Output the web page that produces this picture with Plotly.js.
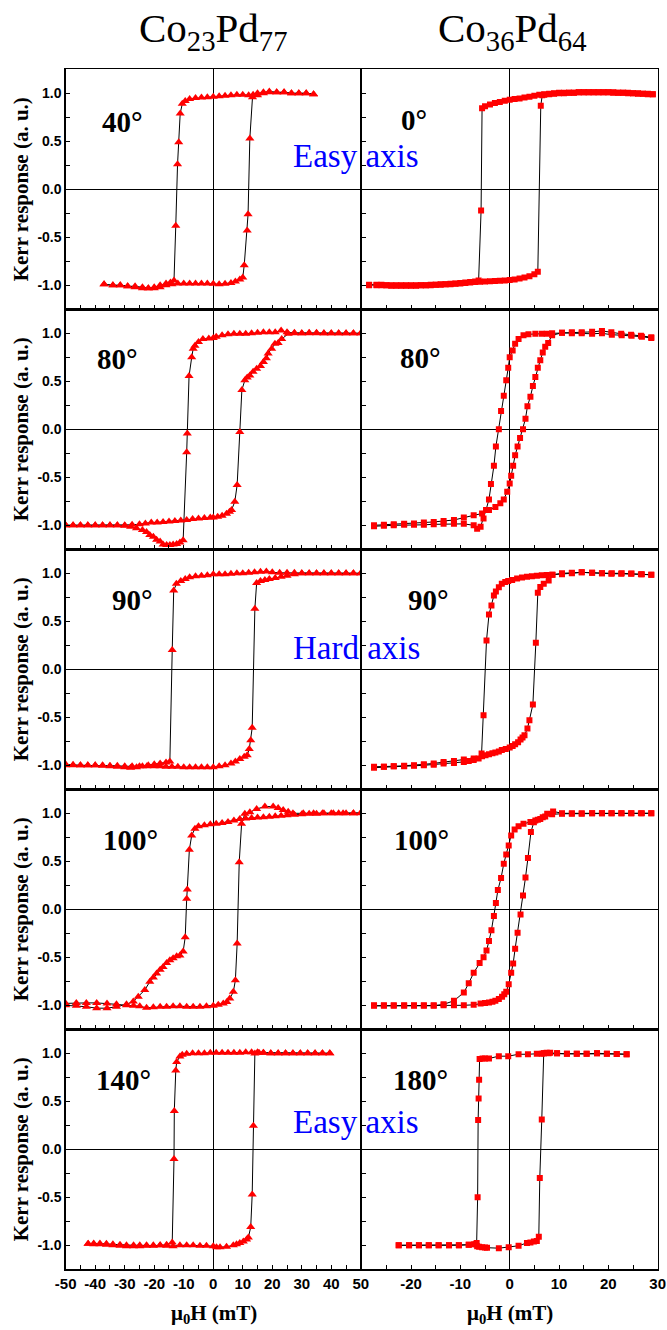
<!DOCTYPE html>
<html>
<head>
<meta charset="utf-8">
<script src="https://cdn.plot.ly/plotly-3.0.1.min.js"></script>
<style>
  html, body { margin: 0; padding: 0; background: #ffffff; }
  #chart { width: 667px; height: 1330px; }
</style>
</head>
<body>
<div id="chart"></div>
<script>
// ---------------- DATA ----------------
// Column titles, panel angle labels
const columnTitles = ['Co<sub>23</sub>Pd<sub>77</sub>', 'Co<sub>36</sub>Pd<sub>64</sub>'];
const angleLabelsLeft = ['40°', '80°', '90°', '100°', '140°'];
const angleLabelsRight = ['0°', '80°', '90°', '100°', '180°'];
const axisNotes = ['Easy axis', 'Hard axis', 'Easy axis'];
const yTitle = 'Kerr response (a. u.)';
const xTitle = 'μ<sub>0</sub>H (mT)';

// Tick values / labels
const yTickVals = [-1, -0.5, 0, 0.5, 1];
const yTickText = ['-1.0', '-0.5', '0.0', '0.5', '1.0'];
const xTickValsLeft = [-50, -40, -30, -20, -10, 0, 10, 20, 30, 40, 50];
const xTickTextLeft = ['-50', '-40', '-30', '-20', '-10', '0', '10', '20', '30', '40', '50'];
const xTickValsRight = [-20, -10, 0, 10, 20, 30];
const xTickTextRight = ['-20', '-10', '0', '10', '20', '30'];

// Co23Pd77, 40 deg
const p40DescX = [34, 31.5, 29, 26.5, 24, 21.5, 19, 17, 15, 13.5, 12, 10, 8, 6, 4, 2, 0, -2, -4, -6, -8, -9.5, -10.5, -11.2, -11.7, -12.1, -12.7, -13.3, -14.5, -16, -18, -20, -22, -24, -26.5, -29, -31.5, -34, -37];
const p40DescY = [0.99, 1.0, 1.0, 1.0, 1.01, 1.01, 1.02, 1.01, 1.0, 0.985, 0.98, 0.985, 0.985, 0.98, 0.975, 0.97, 0.965, 0.96, 0.955, 0.95, 0.94, 0.92, 0.89, 0.79, 0.49, 0.26, -0.38, -0.95, -0.97, -0.98, -1.0, -1.02, -1.03, -1.03, -1.02, -1.01, -1.0, -1.0, -0.99];
const p40AscX = [-37, -34, -31.5, -29, -26.5, -24, -22, -20, -18, -16, -14, -12, -10, -8, -6, -4, -2, 0, 2, 4, 6, 7.5, 9, 10, 10.5, 11.5, 11.8, 12.4, 13.3, 15, 17, 19, 21.5, 24, 26.5, 29, 31.5, 34];
const p40AscY = [-0.99, -1.0, -1.0, -1.01, -1.01, -1.02, -1.03, -1.03, -1.02, -1.0, -0.99, -0.98, -0.98, -0.98, -0.98, -0.98, -0.98, -0.985, -0.99, -0.985, -0.975, -0.96, -0.94, -0.92, -0.79, -0.43, -0.26, 0.53, 0.96, 0.98, 1.0, 1.01, 1.01, 1.01, 1.0, 1.0, 1.0, 0.99];

// Co36Pd64, 0 deg
const q0DescX = [29, 28, 27, 26, 25, 24, 23, 22, 21, 20, 19, 18, 17, 16, 15, 14, 13, 12, 11, 10, 9, 8, 7, 6, 5, 4, 3, 2, 1, 0, -1, -2, -3, -4, -5, -5.6, -5.8, -6.3, -7, -8, -9, -10, -11, -12, -13, -14, -15, -16, -17, -18, -19, -20, -21, -22, -23, -24, -25, -26, -27, -28.5];
const q0DescY = [0.99, 0.995, 0.995, 1.0, 1.0, 1.005, 1.005, 1.005, 1.01, 1.01, 1.01, 1.01, 1.01, 1.01, 1.01, 1.01, 1.005, 1.005, 1.005, 1.005, 1.0, 0.995, 0.99, 0.985, 0.975, 0.965, 0.955, 0.947, 0.94, 0.932, 0.922, 0.91, 0.898, 0.883, 0.865, 0.845, -0.22, -0.95, -0.96, -0.965, -0.97, -0.975, -0.98, -0.985, -0.99, -0.99, -0.995, -0.995, -1.0, -1.0, -1.0, -1.0, -1.0, -1.0, -1.0, -1.0, -1.0, -0.995, -0.995, -0.995];
const q0AscX = [-28.5, -27, -26, -25, -24, -23, -22, -21, -20, -19, -18, -17, -16, -15, -14, -13, -12, -11, -10, -9, -8, -7, -6, -5, -4, -3, -2, -1, 0, 1, 2, 3, 4, 5, 5.7, 6.3, 6.6, 7, 8, 9, 10, 11, 12, 13, 14, 15, 16, 17, 18, 19, 20, 21, 22, 23, 24, 25, 26, 27, 28, 29];
const q0AscY = [-1.0, -1.0, -1.0, -1.0, -1.005, -1.005, -1.005, -1.005, -1.005, -1.005, -1.0, -1.0, -1.0, -0.995, -0.995, -0.99, -0.99, -0.985, -0.98, -0.975, -0.97, -0.965, -0.962, -0.96, -0.958, -0.955, -0.953, -0.95, -0.945, -0.94, -0.93, -0.918, -0.905, -0.885, -0.86, 0.87, 0.98, 0.985, 0.99, 0.995, 1.0, 1.0, 1.005, 1.005, 1.01, 1.01, 1.01, 1.01, 1.01, 1.01, 1.01, 1.005, 1.005, 1.005, 1.0, 1.0, 0.995, 0.995, 0.99, 0.99];

// Co23Pd77, 80 deg
const p80DescX = [50, 47.5, 45, 42.5, 40, 37.5, 35, 32.5, 30, 27.5, 25, 23, 21, 19, 17, 15, 13, 11, 9, 7, 5, 3, 1, 0, -1.5, -3.5, -5, -6.2, -6.8, -7.3, -8.2, -8.8, -9.0, -10.2, -11.3, -12.4, -13.6, -14.7, -15.8, -17, -18, -19.2, -20.3, -21.5, -22.6, -24, -26, -28, -30, -32.5, -35, -37.5, -40, -42.5, -45, -47.5, -50];
const p80DescY = [1.0, 1.0, 1.0, 1.0, 1.0, 1.0, 1.005, 1.005, 1.0, 1.005, 1.01, 1.03, 1.01, 1.01, 1.01, 1.005, 1.0, 0.995, 0.995, 0.995, 0.99, 0.98, 0.965, 0.95, 0.945, 0.94, 0.91, 0.87, 0.84, 0.75, 0.555, -0.045, -0.24, -1.155, -1.18, -1.196, -1.2, -1.205, -1.205, -1.2, -1.17, -1.15, -1.12, -1.1, -1.07, -1.05, -1.03, -1.015, -1.005, -1.0, -1.0, -1.0, -1.0, -1.0, -1.0, -1.0, -1.0];
const p80AscX = [-50, -47.5, -45, -42.5, -40, -37.5, -35, -32.5, -30, -27.5, -25, -23, -21, -19, -17, -15, -13, -11, -9, -7, -5, -3, -1, 0, 1.5, 3, 4.5, 5.5, 6.2, 7.3, 8.1, 9.0, 9.7, 10.7, 11.5, 12.4, 13.5, 14.7, 16, 17, 18, 18.6, 19.8, 20.9, 22, 23.2, 25.4, 27.5, 30, 32.5, 35, 37.5, 40, 42.5, 45, 47.5, 50];
const p80AscY = [-1.0, -1.0, -1.0, -1.0, -1.0, -1.0, -1.0, -1.0, -1.0, -0.995, -0.99, -0.98, -0.97, -0.97, -0.965, -0.96, -0.955, -0.95, -0.945, -0.935, -0.93, -0.925, -0.92, -0.92, -0.91, -0.9, -0.88, -0.86, -0.84, -0.755, -0.58, -0.028, 0.41, 0.51, 0.54, 0.56, 0.6, 0.63, 0.66, 0.70, 0.74, 0.79, 0.84, 0.89, 0.9, 0.94, 0.995, 1.0, 1.0, 1.0, 1.0, 1.0, 1.0, 1.0, 1.0, 1.0, 1.0];

// Co36Pd64, 80 deg
const q80DescX = [28.7, 26.6, 24.6, 22.6, 20.6, 18.7, 16.7, 14.6, 12.6, 10.6, 8.6, 7.5, 6.5, 5.2, 3.8, 2.8, 1.8, 1.1, 0.6, 0, -0.3, -0.7, -1.2, -1.75, -2.2, -2.8, -3.2, -3.8, -4.2, -4.8, -5.3, -5.9, -6.6, -7.3, -9.3, -11.3, -13.4, -15.4, -17.4, -19.4, -21.4, -23.5, -25.5, -27.5];
const q80DescY = [0.96, 0.975, 0.985, 0.995, 1.01, 1.025, 1.015, 1.01, 1.01, 1.005, 1.0, 0.995, 0.995, 0.995, 0.99, 0.98, 0.94, 0.89, 0.82, 0.75, 0.64, 0.51, 0.35, 0.19, 0.0, -0.18, -0.38, -0.57, -0.73, -0.84, -0.93, -1.015, -1.035, -1.0, -0.985, -0.985, -0.985, -0.99, -0.995, -0.995, -0.995, -1.0, -1.005, -1.01];
const q80AscX = [-27.5, -25.5, -23.5, -21.4, -19.4, -17.4, -15.4, -13.4, -11.3, -9.3, -7.3, -5.6, -4.2, -2.9, -1.9, -1.2, -0.5, 0, 0.3, 0.7, 1.1, 1.6, 2.1, 2.7, 3.2, 3.6, 4.2, 4.7, 5.2, 5.7, 6.2, 6.7, 7.2, 7.8, 8.6, 10.6, 12.6, 14.6, 16.7, 18.7, 20.7, 22.7, 24.7, 26.8, 28.7];
const q80AscY = [-1.0, -0.995, -0.99, -0.985, -0.98, -0.97, -0.965, -0.955, -0.945, -0.92, -0.895, -0.877, -0.84, -0.81, -0.77, -0.73, -0.65, -0.565, -0.485, -0.38, -0.27, -0.18, -0.09, 0.0, 0.11, 0.24, 0.34, 0.45, 0.545, 0.64, 0.72, 0.8, 0.86, 0.9, 0.98, 1.005, 1.0, 1.0, 0.995, 1.0, 0.985, 0.98, 0.975, 0.965, 0.95];

// Co23Pd77, 90 deg
const p90DescX = [50, 47.5, 45, 42.5, 40, 37.5, 35, 32.5, 30, 27.5, 25, 22.5, 20, 18, 16, 14, 12, 10, 8, 6, 4, 2, 0, -2, -4, -6, -8, -9.5, -11, -12.5, -13.4, -13.9, -14.7, -16, -18, -20, -22, -24, -26, -28, -30, -32.5, -35, -37.5, -40, -42.5, -45, -47.5, -50];
const p90DescY = [1.0, 1.0, 1.0, 1.0, 1.0, 1.0, 1.0, 1.0, 1.0, 1.005, 1.005, 1.005, 1.01, 1.02, 1.015, 1.01, 1.005, 1.0, 1.0, 0.995, 0.99, 0.99, 0.99, 0.98, 0.975, 0.97, 0.96, 0.94, 0.92, 0.89, 0.82, 0.2, -0.96, -0.97, -0.98, -0.99, -1.0, -1.01, -1.02, -1.025, -1.02, -1.015, -1.01, -1.005, -1.0, -1.0, -1.0, -0.995, -0.99];
const p90AscX = [-50, -47.5, -45, -42.5, -40, -37.5, -35, -32.5, -30, -27.5, -25, -22.5, -20, -18, -16, -14, -12, -10, -8, -6, -4, -2, 0, 2, 4, 6, 7.5, 9, 10.5, 11.5, 12.2, 12.7, 13.2, 14.1, 14.7, 16, 17.5, 19, 21, 23, 25, 27.5, 30, 32.5, 35, 37.5, 40, 42.5, 45, 47.5, 50];
const p90AscY = [-1.0, -1.0, -1.0, -1.0, -1.0, -1.0, -1.005, -1.005, -1.01, -1.01, -1.01, -1.01, -1.01, -1.01, -1.015, -1.015, -1.015, -1.02, -1.02, -1.02, -1.02, -1.02, -1.02, -1.01, -1.0, -0.98, -0.96, -0.935, -0.91, -0.895, -0.83, -0.74, -0.61, 0.63, 0.9, 0.92, 0.93, 0.94, 0.95, 0.965, 0.975, 0.99, 1.0, 1.0, 1.0, 1.0, 1.0, 1.0, 1.0, 1.0, 1.0];

// Co36Pd64, 90 deg
const q90DescX = [28.7, 26.6, 24.6, 22.6, 20.6, 18.7, 16.7, 14.6, 12.6, 10.6, 8.6, 7.5, 6.5, 5.5, 4.5, 3.5, 2.5, 1.5, 0.5, -0.3, -0.9, -1.6, -2.2, -2.8, -3.2, -3.7, -4.2, -4.7, -5.3, -5.7, -6.3, -7.3, -8.3, -9.3, -11.3, -13.4, -15.4, -17.4, -19.4, -21.4, -23.5, -25.5, -27.5];
const q90DescY = [0.985, 0.99, 0.995, 0.995, 0.995, 1.0, 1.005, 1.01, 1.0, 0.99, 0.985, 0.982, 0.98, 0.975, 0.97, 0.963, 0.955, 0.945, 0.93, 0.92, 0.91, 0.89, 0.855, 0.81, 0.77, 0.665, 0.57, 0.3, -0.478, -0.877, -0.93, -0.946, -0.955, -0.965, -0.975, -0.98, -0.995, -1.0, -1.005, -1.01, -1.01, -1.015, -1.025];
const q90AscX = [-27.5, -25.5, -23.5, -21.4, -19.4, -17.4, -15.4, -13.4, -11.3, -9.3, -7.3, -5.6, -4.9, -4.2, -3.5, -2.9, -2.2, -1.6, -0.8, 0, 0.6, 1.1, 1.7, 2.2, 2.6, 3.0, 3.6, 4.0, 4.7, 5.3, 5.7, 6.2, 6.9, 7.9, 8.7, 10.6, 12.6, 14.6, 16.7, 18.7, 20.7, 22.7, 24.7, 26.8, 28.7];
const q90AscY = [-1.015, -1.015, -1.01, -1.005, -1.0, -0.99, -0.98, -0.965, -0.955, -0.94, -0.93, -0.905, -0.895, -0.885, -0.875, -0.867, -0.855, -0.84, -0.83, -0.815, -0.8, -0.78, -0.76, -0.73, -0.71, -0.686, -0.617, -0.53, -0.367, 0.277, 0.797, 0.856, 0.89, 0.925, 0.985, 1.0, 1.005, 1.01, 1.005, 1.0, 1.0, 1.0, 0.997, 0.99, 0.985];

// Co23Pd77, 100 deg
const p100DescX = [50, 47.5, 45, 42.5, 40, 37.5, 35, 32.5, 30, 27.5, 25, 23, 21, 19, 17, 15, 13, 11, 9, 7, 5, 3, 1, -1, -3, -5, -6.2, -7.3, -8.1, -8.8, -9.0, -9.5, -10.2, -11.3, -12.4, -13.6, -14.7, -15.8, -17, -18, -19.2, -20.3, -21.5, -23.2, -25.4, -27.1, -29.4, -32.8, -36, -39.5, -43, -46.4, -50];
const p100DescY = [1.0, 1.0, 1.0, 1.0, 1.0, 1.0, 0.995, 0.995, 0.99, 0.985, 0.98, 0.975, 0.97, 0.965, 0.96, 0.955, 0.95, 0.945, 0.94, 0.925, 0.91, 0.9, 0.89, 0.885, 0.875, 0.865, 0.84, 0.77, 0.62, 0.205, 0.11, -0.29, -0.44, -0.48, -0.49, -0.51, -0.53, -0.56, -0.6, -0.63, -0.67, -0.71, -0.755, -0.84, -0.91, -0.96, -0.99, -1.015, -1.03, -1.03, -1.015, -1.005, -1.0];
const p100AscX = [-50, -46.4, -43, -39.5, -36, -32.8, -29.4, -27, -24.9, -22.6, -20.3, -18, -15.8, -13.6, -11.3, -9, -6.8, -4.5, -2.3, 0, 1.7, 3.4, 4.6, 5.6, 6.8, 7.5, 8.1, 8.8, 9.6, 10.7, 12.4, 14.7, 17.5, 20.3, 22, 23.7, 25.4, 27, 30.5, 34, 37, 40.7, 44, 47.5, 50];
const p100AscY = [-0.98, -0.975, -0.975, -0.975, -0.98, -0.99, -1.0, -1.005, -1.01, -1.026, -1.02, -1.015, -1.015, -1.01, -1.01, -1.015, -1.015, -1.015, -1.01, -1.005, -0.995, -0.98, -0.965, -0.93, -0.86, -0.74, -0.357, 0.49, 0.89, 0.995, 1.01, 1.045, 1.07, 1.07, 1.055, 1.035, 1.015, 1.0, 1.0, 1.0, 1.0, 1.0, 1.0, 1.0, 1.005];

// Co36Pd64, 100 deg
const q100DescX = [28.7, 26.6, 24.6, 22.6, 20.6, 18.7, 16.7, 14.6, 12.6, 10.6, 8.6, 7.2, 6.2, 5.2, 4.2, 2.8, 1.8, 1.0, 0.3, -0.2, -0.7, -1.2, -1.75, -2.4, -2.8, -3.2, -3.7, -4.2, -4.7, -5.3, -6.1, -7.3, -8.3, -9.3, -11.3, -13.4, -15.4, -17.4, -19.4, -21.4, -23.5, -25.5, -27.5];
const q100DescY = [1.0, 1.0, 1.0, 1.0, 1.0, 1.0, 1.0, 0.995, 0.995, 0.995, 0.99, 0.967, 0.94, 0.925, 0.91, 0.89, 0.866, 0.83, 0.77, 0.665, 0.57, 0.475, 0.326, 0.2, 0.066, -0.07, -0.218, -0.33, -0.43, -0.5, -0.56, -0.66, -0.77, -0.867, -0.953, -0.99, -1.005, -1.005, -1.005, -1.005, -1.005, -1.005, -1.005];
const q100AscX = [-27.5, -25.5, -23.5, -21.4, -19.4, -17.4, -15.4, -13.4, -11.3, -9.3, -7.3, -5.9, -5.0, -4.2, -3.5, -2.9, -2.2, -1.55, -1.1, -0.7, -0.2, 0.3, 0.7, 1.1, 1.6, 2.2, 2.7, 3.2, 3.7, 4.3, 4.9, 5.7, 6.7, 7.6, 8.8, 10.6, 12.6, 14.6, 16.7, 18.7, 20.7, 22.7, 24.7, 26.8, 28.7];
const q100AscY = [-1.0, -1.0, -1.0, -1.0, -1.0, -1.0, -1.0, -1.0, -1.0, -1.0, -0.995, -0.98, -0.975, -0.97, -0.962, -0.953, -0.935, -0.91, -0.885, -0.86, -0.78, -0.66, -0.565, -0.41, -0.243, -0.055, 0.145, 0.33, 0.534, 0.804, 0.908, 0.932, 0.96, 0.995, 1.02, 1.0, 1.0, 1.0, 1.0, 1.0, 1.0, 1.0, 1.0, 1.0, 1.0];

// Co23Pd77, 140 deg
const p140DescX = [39.5, 37, 34.5, 32, 29.5, 27, 24.5, 22, 19.5, 17, 15, 13, 11, 9, 7, 5, 3, 1, -1, -3, -5, -7, -9, -10.5, -11.3, -12.4, -12.7, -13.2, -13.3, -13.9, -15.8, -18, -20.3, -22.6, -24.9, -27, -29.4, -31.6, -34, -36.2, -38.4, -40.5, -42.4];
const p140DescY = [1.0, 1.0, 1.0, 1.0, 1.0, 1.0, 1.0, 1.0, 1.0, 1.005, 1.01, 1.01, 1.01, 1.005, 1.005, 1.005, 1.005, 1.005, 1.005, 1.0, 1.0, 1.0, 0.995, 0.985, 0.967, 0.91, 0.82, 0.4, -0.1, -0.97, -0.995, -1.0, -1.005, -1.005, -1.01, -1.01, -1.01, -1.005, -1.0, -0.995, -0.99, -0.99, -0.985];
const p140AscX = [-42.4, -40.5, -38.4, -36.2, -34, -31.6, -29.4, -27, -24.9, -22.6, -20.3, -18, -15.8, -13.6, -11.3, -9, -6.8, -4.5, -2.3, 0, 1.1, 2.3, 4.5, 6.8, 7.9, 9, 10.2, 11.3, 11.9, 12.7, 13.2, 13.6, 14.1, 15.5, 17, 19.5, 22, 24.5, 27, 29.5, 32, 34.5, 37, 39.5];
const p140AscY = [-0.985, -0.98, -0.98, -0.985, -0.99, -0.995, -1.0, -1.0, -1.0, -1.0, -1.0, -1.0, -1.005, -1.01, -1.0, -1.0, -1.0, -1.005, -1.005, -1.01, -1.02, -1.02, -1.015, -1.0, -0.99, -0.975, -0.96, -0.94, -0.92, -0.81, -0.47, 0.245, 0.997, 1.005, 1.005, 1.0, 1.0, 1.0, 1.0, 1.0, 1.0, 1.0, 1.0, 1.0];

// Co36Pd64, 180 deg
const q180DescX = [23.7, 21.7, 19.7, 17.7, 15.6, 13.6, 11.6, 9.6, 7.9, 6.9, 6.5, 5.5, 3.7, 1.8, -0.3, -2.2, -4.2, -5.0, -5.5, -6.1, -6.2, -6.3, -6.4, -6.5, -6.7, -7.2, -8.3, -10.3, -12.3, -14.4, -16.4, -18.4, -20.4, -22.5];
const q180DescY = [0.99, 0.993, 0.995, 1.0, 0.995, 0.995, 0.995, 1.0, 1.0, 1.0, 0.995, 0.995, 0.99, 0.99, 0.97, 0.97, 0.946, 0.946, 0.946, 0.94, 0.725, 0.53, 0.305, -0.5, -0.977, -0.99, -0.995, -1.0, -1.0, -1.0, -1.0, -1.0, -1.0, -1.0];
const q180AscX = [-22.5, -20.4, -18.4, -16.4, -14.4, -12.3, -10.3, -8.3, -6.9, -6.6, -6.2, -5.6, -5.0, -4.6, -2.2, -0.2, 1.8, 3.5, 4.2, 4.9, 5.5, 5.9, 6.1, 6.5, 6.9, 7.5, 8.2, 9.6, 11.6, 13.6, 15.6, 17.7, 19.7, 21.7, 23.7];
const q180AscY = [-1.0, -1.0, -1.0, -1.0, -1.0, -1.0, -1.0, -0.995, -0.99, -1.01, -1.015, -1.02, -1.022, -1.025, -1.03, -1.02, -1.005, -0.975, -0.97, -0.96, -0.955, -0.91, -0.3, 0.31, 1.0, 1.005, 1.005, 1.0, 0.995, 0.995, 0.995, 1.0, 0.995, 0.993, 0.99];

// ---------------- BUILD ----------------
const W = 667, H = 1330;
const px = v => v / W;
const py = v => 1 - v / H;

// panel list: [descX, descY, ascX, ascY, column, row]
const panels = [
  [p40DescX, p40DescY, p40AscX, p40AscY, 0, 0],
  [q0DescX, q0DescY, q0AscX, q0AscY, 1, 0],
  [p80DescX, p80DescY, p80AscX, p80AscY, 0, 1],
  [q80DescX, q80DescY, q80AscX, q80AscY, 1, 1],
  [p90DescX, p90DescY, p90AscX, p90AscY, 0, 2],
  [q90DescX, q90DescY, q90AscX, q90AscY, 1, 2],
  [p100DescX, p100DescY, p100AscX, p100AscY, 0, 3],
  [q100DescX, q100DescY, q100AscX, q100AscY, 1, 3],
  [p140DescX, p140DescY, p140AscX, p140AscY, 0, 4],
  [q180DescX, q180DescY, q180AscX, q180AscY, 1, 4]
];

const colPx = [[65.7, 360.8], [361.7, 657.7]];
const rowTop = 69.3, rowH = 240;
const xTickFont = { family: 'Liberation Sans, Arial, sans-serif', size: 15, color: '#000000', weight: 'bold' };
const yTickFont = { family: 'Liberation Sans, Arial, sans-serif', size: 14, color: '#000000', weight: 'bold' };

const traces = [];
const layout = {
  width: W, height: H,
  margin: { l: 0, r: 0, t: 0, b: 0, pad: 0 },
  paper_bgcolor: '#ffffff', plot_bgcolor: '#ffffff',
  showlegend: false,
  annotations: []
};

panels.forEach((p, i) => {
  const k = i + 1;
  const xn = k === 1 ? 'x' : 'x' + k;
  const yn = k === 1 ? 'y' : 'y' + k;
  const col = p[4], row = p[5];
  traces.push({
    type: 'scatter', mode: 'lines+markers',
    x: p[0].concat(p[2]), y: p[1].concat(p[3]),
    xaxis: xn, yaxis: yn,
    line: { color: '#000000', width: 1 },
    marker: col === 0
      ? { symbol: 'triangle-up', size: 8, color: '#ff0000', line: { width: 0 } }
      : { symbol: 'square', size: 6, color: '#ff0000', line: { width: 0 } },
    hoverinfo: 'skip'
  });
  const top = rowTop + row * rowH, bot = top + rowH;
  layout['xaxis' + (k === 1 ? '' : k)] = {
    domain: [px(colPx[col][0]), px(colPx[col][1])],
    anchor: yn,
    range: col === 0 ? [-50, 50] : [-30, 30],
    showline: true, mirror: true, linecolor: '#000000', linewidth: 1.4,
    ticks: 'inside', ticklen: 4, tickwidth: 1, tickcolor: '#000000',
    tickmode: 'array',
    tickvals: col === 0 ? xTickValsLeft : xTickValsRight,
    ticktext: col === 0 ? xTickTextLeft : xTickTextRight,
    showticklabels: row === 4,
    tickfont: xTickFont,
    minor: { tickmode: 'linear', tick0: 0, dtick: 5, ticks: 'inside', ticklen: 4, tickwidth: 1, tickcolor: '#000000', showgrid: false },
    showgrid: false,
    zeroline: true, zerolinecolor: '#000000', zerolinewidth: 1,
    fixedrange: true
  };
  layout['yaxis' + (k === 1 ? '' : k)] = {
    domain: [py(bot), py(top)],
    anchor: xn,
    range: [-1.25, 1.25],
    showline: true, mirror: true, linecolor: '#000000', linewidth: 1.4,
    ticks: 'inside', ticklen: 4, tickwidth: 1, tickcolor: '#000000',
    tickmode: 'array', tickvals: yTickVals, ticktext: yTickText,
    showticklabels: col === 0,
    tickfont: yTickFont,
    minor: { tickmode: 'linear', tick0: 0, dtick: 0.25, ticks: 'inside', ticklen: 4, tickwidth: 1, tickcolor: '#000000', showgrid: false },
    showgrid: false,
    zeroline: true, zerolinecolor: '#000000', zerolinewidth: 1,
    fixedrange: true
  };
  if (col === 0) {
    layout.annotations.push({
      xref: 'paper', yref: 'paper', x: px(21), y: py(top + rowH / 2),
      xanchor: 'center', yanchor: 'middle', textangle: -90, showarrow: false,
      text: '<b>' + yTitle + '</b>',
      font: { family: 'Liberation Serif, Times New Roman, serif', size: 21, color: '#000000' }
    });
  }
});

// Column titles
const titleX = [213, 512];
columnTitles.forEach((t, c) => {
  layout.annotations.push({
    xref: 'paper', yref: 'paper', x: px(titleX[c]), y: py(31),
    xanchor: 'center', yanchor: 'middle', showarrow: false, text: t,
    font: { family: 'Liberation Serif, Times New Roman, serif', size: 41, color: '#000000' }
  });
});

// Angle labels
const angLPos = [[122, 122], [117, 359], [132, 600], [130, 840], [123, 1080]];
const angRPos = [[414, 120], [420, 358], [428, 600], [421, 840], [420, 1080]];
angleLabelsLeft.forEach((t, r) => {
  layout.annotations.push({
    xref: 'paper', yref: 'paper', x: px(angLPos[r][0]), y: py(angLPos[r][1]),
    xanchor: 'center', yanchor: 'middle', showarrow: false, text: '<b>' + t + '</b>',
    font: { family: 'Liberation Serif, Times New Roman, serif', size: 29, color: '#000000' }
  });
});
angleLabelsRight.forEach((t, r) => {
  layout.annotations.push({
    xref: 'paper', yref: 'paper', x: px(angRPos[r][0]), y: py(angRPos[r][1]),
    xanchor: 'center', yanchor: 'middle', showarrow: false, text: '<b>' + t + '</b>',
    font: { family: 'Liberation Serif, Times New Roman, serif', size: 29, color: '#000000' }
  });
});

// Easy / Hard axis notes
const notePos = [[356, 156], [356, 648], [356, 1122]];
axisNotes.forEach((t, i) => {
  layout.annotations.push({
    xref: 'paper', yref: 'paper', x: px(notePos[i][0]), y: py(notePos[i][1]),
    xanchor: 'center', yanchor: 'middle', showarrow: false, text: t,
    font: { family: 'Liberation Serif, Times New Roman, serif', size: 33, color: '#0000ff' }
  });
});

// x axis titles
[214, 510].forEach(cx => {
  layout.annotations.push({
    xref: 'paper', yref: 'paper', x: px(cx), y: py(1314),
    xanchor: 'center', yanchor: 'middle', showarrow: false, text: '<b>' + xTitle + '</b>',
    font: { family: 'Liberation Serif, Times New Roman, serif', size: 21, color: '#000000' }
  });
});

Plotly.newPlot('chart', traces, layout, { displayModeBar: false, staticPlot: true });
</script>
</body>
</html>
